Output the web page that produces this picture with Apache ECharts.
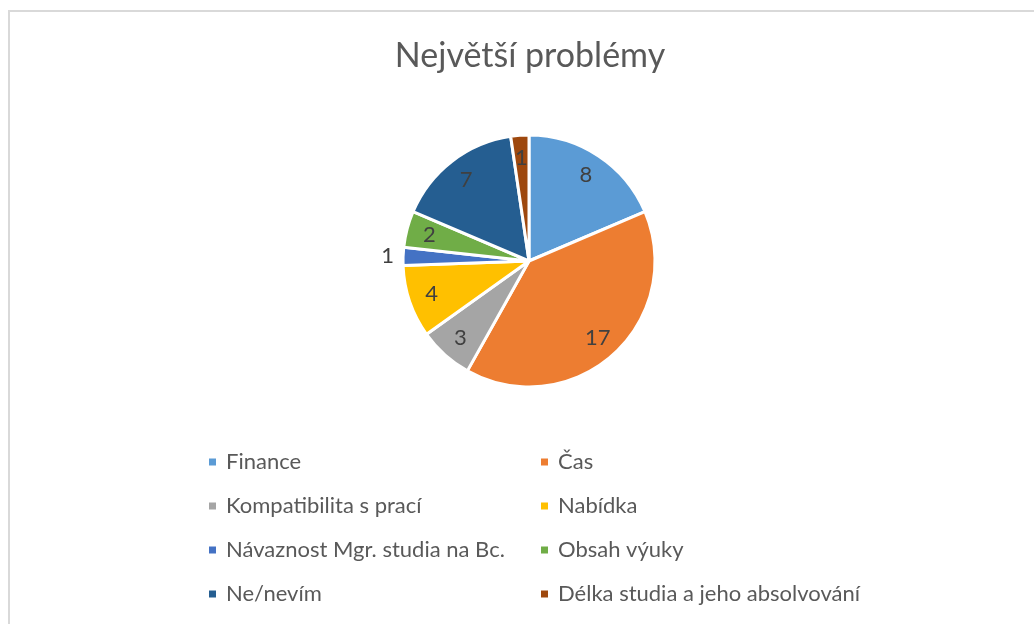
<!DOCTYPE html>
<html>
<head>
<meta charset="utf-8">
<script src="https://cdn.jsdelivr.net/npm/echarts@6/dist/echarts.min.js"></script>
<style>
html,body{margin:0;padding:0;background:#fff;}
#frame{position:absolute;left:8px;top:10px;width:1040px;height:630px;border-left:2px solid #d9d9d9;border-top:2px solid #d9d9d9;}
#chart{position:absolute;left:0;top:0;width:1034px;height:624px;}
</style>
</head>
<body>
<div id="frame"></div>
<div id="chart"></div>
<script>
const titleText = 'Největší problémy';
const categories = ['Finance','Čas','Kompatibilita s prací','Nabídka','Návaznost Mgr. studia na Bc.','Obsah výuky','Ne/nevím','Délka studia a jeho absolvování'];
const values = [8, 17, 3, 4, 1, 2, 7, 1];
const colors = ['#5B9BD5','#ED7D31','#A5A5A5','#FFC000','#4472C4','#70AD47','#255E91','#9E480E'];
const outsideLabelIndex = 4;

const font = 'Lato, "Open Sans", sans-serif';
const chart = echarts.init(document.getElementById('chart'));

const pieData = categories.map((c,i)=>({
  name:c, value:values[i],
  itemStyle:{color:colors[i]},
  label: i===outsideLabelIndex ? {show:true, position:'outside', formatter:'{c}', fontSize:22, color:'#404040', fontFamily:font} : {show:false},
  labelLine:{show:false, length:4, length2:0}
}));
const overlayData = categories.map((c,i)=>({
  name:c, value:values[i],
  label:{show: i!==outsideLabelIndex}
}));
const leftIdx = [0,2,4,6], rightIdx = [1,3,5,7];
const legendItem = i => ({name:categories[i], itemStyle:{color:colors[i]}});
const legendCommon = {
  orient:'vertical', icon:'rect', itemWidth:9, itemHeight:9, itemGap:22, padding:0,
  textStyle:{fontSize:22, color:'#595959', fontFamily:font, lineHeight:22, padding:[0,0,0,4]},
  selectedMode:false
};

chart.setOption({
  animation:false,
  title:{text:titleText, top:34, left:525, textAlign:'center',
    textStyle:{fontSize:34, fontWeight:'normal', color:'#595959', fontFamily:font}},
  color:colors,
  legend:[
    Object.assign({left:207, top:451, data:leftIdx.map(legendItem)}, legendCommon),
    Object.assign({left:539, top:451, data:rightIdx.map(legendItem)}, legendCommon)
  ],
  series:[
    {
      type:'pie', center:[529,261], radius:[0,126], startAngle:90, clockwise:true,
      itemStyle:{borderColor:'#fff', borderWidth:3},
      data:pieData, silent:true,
      emphasis:{disabled:true}
    },
    {
      type:'pie', center:[529,261], radius:[60,140], startAngle:90, clockwise:true,
      itemStyle:{color:'rgba(0,0,0,0)'},
      label:{position:'inside', fontSize:22, color:'#404040', fontFamily:font, formatter:'{c}'},
      labelLine:{show:false},
      data:overlayData, silent:true,
      emphasis:{disabled:true}
    }
  ]
});
</script>
</body>
</html>
